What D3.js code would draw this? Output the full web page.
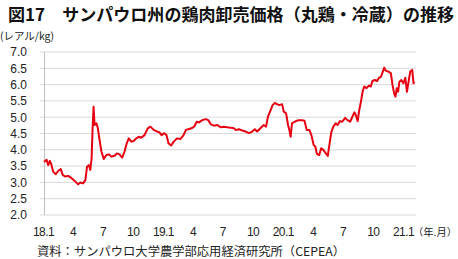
<!DOCTYPE html>
<html>
<head>
<meta charset="utf-8">
<script src="https://cdn.jsdelivr.net/npm/d3@7"></script>
<style>
  body { margin: 0; background: #fff; }
  svg { display: block; font-family: "Noto Sans CJK JP", "Liberation Sans", sans-serif; }
</style>
</head>
<body>
<svg id="chart" width="458" height="259"></svg>
<script>
// 日付（週次程度に読み取り）
const dates = [
  "2018-01-04","2018-01-12","2018-01-17","2018-01-22","2018-01-27","2018-02-01","2018-02-09","2018-02-16",
  "2018-02-24","2018-03-02","2018-03-09","2018-03-19","2018-03-29","2018-04-08","2018-04-18","2018-04-25",
  "2018-05-03","2018-05-10","2018-05-15","2018-05-21","2018-05-25","2018-05-29","2018-06-01","2018-06-04",
  "2018-06-07","2018-06-13","2018-06-17","2018-06-23","2018-06-28","2018-07-05","2018-07-13","2018-07-21",
  "2018-07-28","2018-08-07","2018-08-14","2018-08-22","2018-08-30","2018-09-06","2018-09-13","2018-09-19",
  "2018-09-27","2018-10-04","2018-10-12","2018-10-20","2018-10-27","2018-11-06","2018-11-16","2018-11-24",
  "2018-12-04","2018-12-14","2018-12-21","2018-12-28","2019-01-05","2019-01-12","2019-01-18","2019-01-26",
  "2019-02-03","2019-02-13","2019-02-23","2019-03-05","2019-03-12","2019-03-22","2019-03-29","2019-04-06",
  "2019-04-14","2019-04-21","2019-05-01","2019-05-12","2019-05-19","2019-05-27","2019-06-06","2019-06-16",
  "2019-06-26","2019-07-06","2019-07-16","2019-07-26","2019-08-05","2019-08-11","2019-08-21","2019-08-31",
  "2019-09-10","2019-09-20","2019-09-30","2019-10-08","2019-10-15","2019-10-25","2019-11-04","2019-11-11",
  "2019-11-17","2019-11-25","2019-12-01","2019-12-08","2019-12-14","2019-12-22","2019-12-30","2020-01-04",
  "2020-01-11","2020-01-17","2020-01-21","2020-01-25","2020-01-29","2020-02-06","2020-02-18","2020-02-28",
  "2020-03-07","2020-03-14","2020-03-22","2020-03-28","2020-04-04","2020-04-09","2020-04-14","2020-04-21",
  "2020-04-27","2020-05-04","2020-05-11","2020-05-17","2020-05-24","2020-05-28","2020-06-03","2020-06-10",
  "2020-06-16","2020-06-23","2020-06-30","2020-07-09","2020-07-16","2020-07-24","2020-07-31","2020-08-06",
  "2020-08-10","2020-08-16","2020-08-20","2020-08-26","2020-08-31","2020-09-05","2020-09-12","2020-09-19",
  "2020-09-25","2020-09-30","2020-10-07","2020-10-14","2020-10-20","2020-10-26","2020-10-30","2020-11-05",
  "2020-11-10","2020-11-17","2020-11-25","2020-11-30","2020-12-05","2020-12-09","2020-12-13","2020-12-17",
  "2020-12-21","2020-12-27","2021-01-02","2021-01-08","2021-01-13","2021-01-18","2021-01-23","2021-01-29",
  "2021-02-02","2021-02-05"
];

// 価格（レアル/kg）
const prices = [
  3.63,3.69,3.53,3.66,3.53,3.33,3.25,3.35,
  3.41,3.23,3.18,3.20,3.13,3.04,2.94,3.00,
  2.97,3.07,3.48,3.53,3.38,3.74,4.66,5.32,
  4.76,4.81,4.66,4.25,3.94,3.72,3.84,3.86,
  3.79,3.82,3.89,3.86,3.76,3.94,4.20,4.35,
  4.25,4.27,4.35,4.40,4.37,4.45,4.66,4.71,
  4.61,4.56,4.54,4.45,4.51,4.45,4.20,4.13,
  4.25,4.35,4.33,4.45,4.61,4.64,4.66,4.71,
  4.86,4.84,4.91,4.94,4.91,4.78,4.74,4.76,
  4.69,4.71,4.69,4.68,4.66,4.61,4.63,4.59,
  4.56,4.51,4.56,4.63,4.56,4.66,4.76,4.71,
  5.02,5.22,5.37,5.44,5.40,5.37,5.40,5.17,
  5.12,4.76,4.61,4.40,4.81,4.86,4.91,4.91,
  4.89,4.61,4.61,4.45,4.15,4.10,3.87,3.84,
  4.05,3.99,3.89,3.81,4.30,4.55,4.71,4.81,
  4.76,4.88,4.86,4.98,4.91,4.86,5.02,5.15,
  5.07,4.88,5.17,5.48,5.78,5.94,5.89,5.97,
  5.94,6.11,6.14,6.11,6.21,6.24,6.35,6.52,
  6.42,6.40,6.35,5.99,5.73,5.63,5.89,5.78,
  6.09,6.14,6.04,6.21,5.78,6.09,6.40,6.45,
  6.04,6.09
];

const yTicks = [2.0, 2.5, 3.0, 3.5, 4.0, 4.5, 5.0, 5.5, 6.0, 6.5, 7.0];
const xTicks = ["2018-01-01","2018-04-01","2018-07-01","2018-10-01","2019-01-01","2019-04-01","2019-07-01",
                "2019-10-01","2020-01-01","2020-04-01","2020-07-01","2020-10-01","2021-01-01"];

const title = "図17　サンパウロ州の鶏肉卸売価格（丸鶏・冷蔵）の推移";
const unitLabel = "(レアル/kg)";
const periodLabel = "（年.月）";
const sourceText = "資料：サンパウロ大学農学部応用経済研究所（CEPEA）";

const parse = d3.timeParse("%Y-%m-%d");
const data = dates.map((d, i) => ({ date: parse(d), value: prices[i] }));

const svg = d3.select("#chart");

// 目盛り
const x = d3.scaleTime()
  .domain([parse("2018-01-01"), parse("2021-01-01")])
  .range([43, 403]);
const y = d3.scaleLinear()
  .domain([2, 7])
  .range([215, 52]);

// タイトル
svg.append("text")
  .attr("x", 8).attr("y", 21)
  .attr("font-size", 17).attr("font-weight", "bold")
  .attr("textLength", 446).attr("lengthAdjust", "spacingAndGlyphs")
  .attr("fill", "#111")
  .text(title);

svg.append("text")
  .attr("x", 0).attr("y", 40)
  .attr("font-size", 10.5).attr("fill", "#222")
  .attr("textLength", 54).attr("lengthAdjust", "spacingAndGlyphs")
  .text(unitLabel);

// 横の補助線
svg.append("g")
  .selectAll("line")
  .data(yTicks)
  .join("line")
  .attr("x1", 40).attr("x2", 416)
  .attr("y1", d => y(d)).attr("y2", d => y(d))
  .attr("stroke", "#d9d9d9").attr("stroke-width", 1);

// 縦軸
const axisY = d3.axisLeft(y).tickValues(yTicks).tickFormat(d3.format(".1f")).tickSize(0).tickPadding(0);
const gy = svg.append("g").attr("transform", "translate(27,0)").call(axisY);
gy.select(".domain").remove();
gy.selectAll("text").attr("font-size", 12).attr("fill", "#222")
  .attr("font-family", "Liberation Sans, sans-serif");

svg.append("line")
  .attr("x1", 44.5).attr("x2", 44.5)
  .attr("y1", y(7)).attr("y2", y(2))
  .attr("stroke", "#bfbfbf");

// 横軸
const fmtTick = d => d.getMonth() === 0 ? d3.timeFormat("%y")(d) + ".1" : String(d.getMonth() + 1);
const axisX = d3.axisBottom(x).tickValues(xTicks.map(parse)).tickFormat(fmtTick).tickSize(0).tickPadding(0);
const gx = svg.append("g").attr("transform", "translate(0,227)").call(axisX);
gx.select(".domain").remove();
gx.selectAll("text").attr("font-size", 12).attr("fill", "#222")
  .attr("letter-spacing", -0.6)
  .attr("font-family", "Liberation Sans, sans-serif");

svg.append("text")
  .attr("x", 413).attr("y", 235.5)
  .attr("font-size", 10).attr("fill", "#222")
  .attr("textLength", 44).attr("lengthAdjust", "spacingAndGlyphs")
  .text(periodLabel);

// 折れ線
const line = d3.line()
  .x(d => x(d.date))
  .y(d => y(d.value));
svg.append("path")
  .datum(data)
  .attr("d", line)
  .attr("fill", "none")
  .attr("stroke", "#e60012")
  .attr("stroke-width", 2)
  .attr("stroke-linejoin", "round");

// 出典
svg.append("text")
  .attr("x", 37).attr("y", 256)
  .attr("font-size", 12).attr("fill", "#222")
  .attr("textLength", 308).attr("lengthAdjust", "spacingAndGlyphs")
  .text(sourceText);
</script>
</body>
</html>
